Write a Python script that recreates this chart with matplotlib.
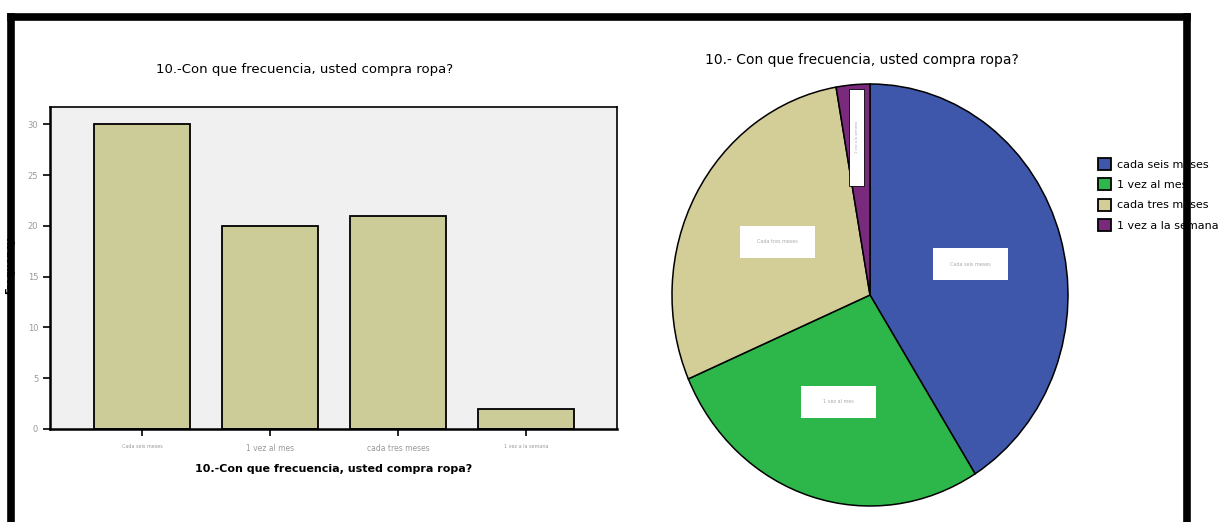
import numpy as np
import matplotlib.pyplot as plt
from matplotlib.patches import Patch, Rectangle
from matplotlib.lines import Line2D

# frecuencia de compra de ropa
categorias = ['Cada seis meses', '1 vez al mes', 'cada tres meses', '1 vez a la semana']
frecuencia = [30, 20, 21, 2]
leyenda = ['cada seis meses', '1 vez al mes', 'cada tres meses', '1 vez a la semana']
etiquetas_pie = ['Cada seis meses', '1 vez al mes', 'Cada tres meses', '1 vez a la semana']
colores = ['#3E57AB', '#2DB74A', '#D3CD98', '#7A2A7D']
titulo = '10.-Con que frecuencia, usted compra ropa?'

W, H = 1220, 522
fig = plt.figure(figsize=(W / 100, H / 100), dpi=100)
fig.patch.set_facecolor('white')

def fx(px):
    return px / W

def fy(py):
    return 1 - py / H

# ---- barras ----
ax = fig.add_axes([fx(50), fy(429), fx(617) - fx(50), fy(107) - fy(429)])
ax.set_facecolor('#F0F0F0')
x = np.arange(len(categorias))
ax.bar(x, frecuencia, width=0.745, color='#CCCC99', edgecolor='black', linewidth=1.3, zorder=2)
ax.set_xlim(-0.72, 3.71)
ax.set_ylim(0, 31.7)
ax.set_yticks([0, 5, 10, 15, 20, 25, 30])
ax.set_xticks(x)
ax.set_xticklabels(categorias, color='#9A9A9A')
for lab, fs in zip(ax.get_xticklabels(), [3.5, 5.5, 5.5, 3.5]):
    lab.set_fontsize(fs)
ax.tick_params(axis='y', labelsize=6, labelcolor='#9A9A9A', direction='out', length=5, width=1.2)
ax.tick_params(axis='x', direction='out', length=5, width=1.2, pad=6)
for s in ax.spines.values():
    s.set_linewidth(1.2)
ax.spines['left'].set_linewidth(1.8)
ax.spines['bottom'].set_linewidth(1.8)
ax.set_xlabel(titulo, fontsize=8, fontweight='bold', labelpad=8)
fig.text(fx(10), fy(265), 'Frequency', rotation=90, fontsize=7, fontweight='bold',
         ha='center', va='center')
fig.text(fx(305), fy(70), titulo, fontsize=9.5, ha='center', va='center')

# ---- pastel ----
cx, cy, rx, ry = 870, 295, 198, 211
ax2 = fig.add_axes([fx(cx - rx), fy(cy + ry), 2 * rx / W, 2 * ry / H])
wedges, _ = ax2.pie(frecuencia, colors=colores, startangle=90, counterclock=False,
                    wedgeprops=dict(edgecolor='black', linewidth=1.1))
ax2.set_aspect('auto')
ax2.set_xlim(-1, 1)
ax2.set_ylim(-1, 1)
ax2.axis('off')

# etiquetas en cajas blancas sobre cada sector
for w, txt in zip(wedges, etiquetas_pie):
    ang = np.deg2rad((w.theta1 + w.theta2) / 2)
    if w.theta2 - w.theta1 < 20:
        r = 0.75
        px, py = r * np.cos(ang), r * np.sin(ang)
        ax2.add_patch(Rectangle((px - 0.04, py - 0.23), 0.075, 0.46, facecolor='white',
                                edgecolor='black', linewidth=0.6, zorder=3))
        ax2.text(px, py, txt, rotation=90, fontsize=2.5, color='#AAAAAA',
                 ha='center', va='center', zorder=4)
    else:
        r = 0.53
        px, py = r * np.cos(ang), r * np.sin(ang)
        ax2.add_patch(Rectangle((px - 0.19, py - 0.075), 0.38, 0.15, facecolor='white',
                                edgecolor='none', zorder=3))
        ax2.text(px, py, txt, fontsize=3.5, color='#AAAAAA', ha='center', va='center', zorder=4)

fig.text(fx(862), fy(60), '10.- Con que frecuencia, usted compra ropa?', fontsize=10,
         ha='center', va='center')

handles = [Patch(facecolor=c, edgecolor='black', linewidth=1.3) for c in colores]
fig.legend(handles, leyenda, loc='upper left', bbox_to_anchor=(fx(1090), fy(150)),
           frameon=False, fontsize=8, handlelength=1.2, handleheight=1.3,
           handletextpad=0.5, labelspacing=0.75, borderpad=0.2)

# marco negro
marco = dict(color='black', linewidth=5.5, solid_capstyle='projecting', zorder=20,
             transform=fig.transFigure)
fig.lines.append(Line2D([fx(10.5), fx(1187)], [fy(16.5), fy(16.5)], **marco))
fig.lines.append(Line2D([fx(10.5), fx(10.5)], [fy(16.5), fy(530)], **marco))
fig.lines.append(Line2D([fx(1187), fx(1187)], [fy(16.5), fy(530)], **marco))

fig.savefig('out.png', dpi=100)
